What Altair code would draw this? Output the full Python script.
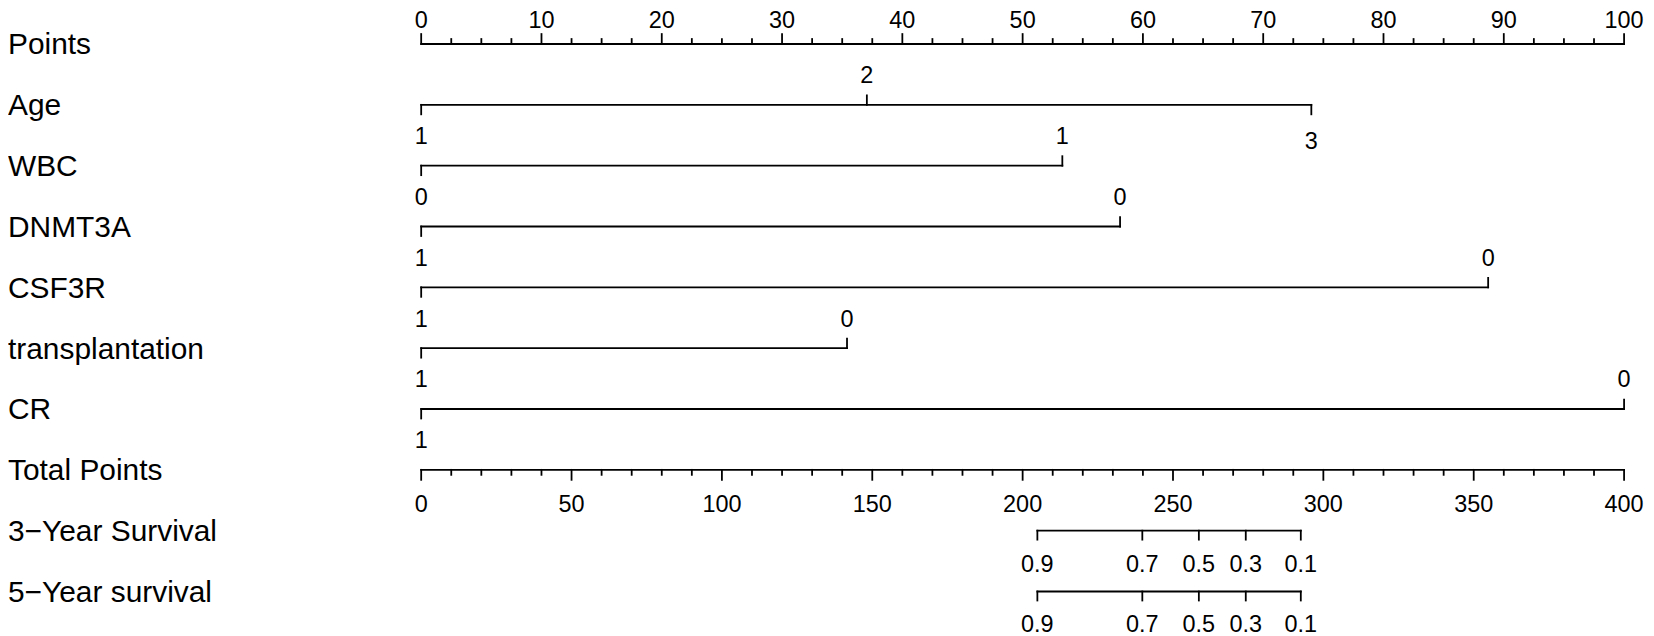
import altair as alt
import pandas as pd

# ---------------- data ----------------
row_names = ["Points", "Age", "WBC", "DNMT3A", "CSF3R", "transplantation", "CR",
             "Total Points", "3\u2212Year Survival", "5\u2212Year survival"]

points_major = [0, 10, 20, 30, 40, 50, 60, 70, 80, 90, 100]
points_minor = [i * 2.5 for i in range(41) if i % 4]
total_major = [0, 50, 100, 150, 200, 250, 300, 350, 400]
total_minor = [v for v in range(0, 401, 10) if v % 50]

age_levels = ["1", "2", "3"]
age_points = [0, 37.05, 74.0]
wbc_levels = ["0", "1"]
wbc_points = [0, 53.3]
dnmt3a_levels = ["1", "0"]
dnmt3a_points = [0, 58.1]
csf3r_levels = ["1", "0"]
csf3r_points = [0, 88.7]
transplantation_levels = ["1", "0"]
transplantation_points = [0, 35.4]
cr_levels = ["1", "0"]
cr_points = [0, 100]

surv3_probs = ["0.9", "0.7", "0.5", "0.3", "0.1"]
surv3_total = [204.9, 239.8, 258.6, 274.2, 292.5]
surv5_probs = ["0.9", "0.7", "0.5", "0.3", "0.1"]
surv5_total = [204.9, 239.8, 258.6, 274.2, 292.5]

# label placement (style): above / below / below2 per level
age_sides = ["below", "above", "below2"]
two_sides = ["below", "above"]

# ---------------- tables ----------------
rows_df = pd.DataFrame({"row": list(range(len(row_names))), "name": row_names})

pts_major_df = pd.DataFrame({"row": 0, "pts": points_major, "label": [str(v) for v in points_major]})
pts_minor_df = pd.DataFrame({"row": 0, "pts": points_minor})

variables = [
    (1, age_levels, age_points, age_sides),
    (2, wbc_levels, wbc_points, two_sides),
    (3, dnmt3a_levels, dnmt3a_points, two_sides),
    (4, csf3r_levels, csf3r_points, two_sides),
    (5, transplantation_levels, transplantation_points, two_sides),
    (6, cr_levels, cr_points, two_sides),
]
lvl_records, line_records = [], []
for r, labs, pts, sides in variables:
    line_records.append({"row": r, "start": min(pts), "end": max(pts)})
    for lab, p, s in zip(labs, pts, sides):
        lvl_records.append({"row": r, "pts": p, "label": lab, "side": s})
lvl_df = pd.DataFrame(lvl_records)
var_lines_df = pd.DataFrame(line_records)

tot_major_df = pd.DataFrame({"row": 7, "tp": total_major, "label": [str(v) for v in total_major]})
tot_minor_df = pd.DataFrame({"row": 7, "tp": total_minor})
surv_df = pd.DataFrame({
    "row": [8] * len(surv3_total) + [9] * len(surv5_total),
    "tp": surv3_total + surv5_total,
    "label": surv3_probs + surv5_probs,
})
surv_lines_df = pd.DataFrame({
    "row": [8, 9],
    "start": [min(surv3_total), min(surv5_total)],
    "end": [max(surv3_total), max(surv5_total)],
})
axis_lines_df = pd.DataFrame({"row": [0], "start": [0], "end": [100]})
tot_line_df = pd.DataFrame({"row": [7], "start": [0], "end": [400]})

# ---------------- encodings ----------------
FONT = "Liberation Sans"
X0, X1 = 414.7, 1622.0
pts_scale = alt.Scale(domain=[0, 100], range=[X0, X1], nice=False, zero=False)
tot_scale = alt.Scale(domain=[0, 400], range=[X0, X1], nice=False, zero=False)
y_enc = alt.Y("row:Q", scale=alt.Scale(domain=[0, 9], range=[35, 584.5], nice=False, zero=False), axis=None)
SW = 1.8
rule_kw = dict(color="black", strokeWidth=SW, strokeCap="square")
num_kw = dict(font=FONT, fontSize=23.5, color="black", align="center", baseline="alphabetic")


def hline(df, scale):
    return alt.Chart(df).mark_rule(**rule_kw).encode(
        x=alt.X("start:Q", scale=scale, axis=None), x2="end:Q", y=y_enc)


def vticks(df, field, scale, off, flt=None):
    c = alt.Chart(df)
    if flt is not None:
        c = c.transform_filter(flt)
    return c.mark_rule(y2Offset=off, **rule_kw).encode(
        x=alt.X(f"{field}:Q", scale=scale, axis=None), y=y_enc, y2=alt.Y2("row"))


def labels(df, field, scale, dy, flt=None):
    c = alt.Chart(df)
    if flt is not None:
        c = c.transform_filter(flt)
    return c.mark_text(dy=dy, **num_kw).encode(
        x=alt.X(f"{field}:Q", scale=scale, axis=None), y=y_enc, text="label:N")


row_labels = alt.Chart(rows_df).mark_text(
    font=FONT, fontSize=30, color="black", align="left", baseline="alphabetic", dy=10.5
).encode(x=alt.value(0), y=y_enc, text="name:N")

pts_layer = alt.layer(
    row_labels,
    hline(axis_lines_df, pts_scale),
    vticks(pts_major_df, "pts", pts_scale, -10),
    vticks(pts_minor_df, "pts", pts_scale, -5),
    labels(pts_major_df, "pts", pts_scale, -16.5),
    hline(var_lines_df, pts_scale),
    vticks(lvl_df, "pts", pts_scale, -9.5, alt.datum.side == "above"),
    vticks(lvl_df, "pts", pts_scale, 9.5, alt.datum.side != "above"),
    labels(lvl_df, "pts", pts_scale, -21.6, alt.datum.side == "above"),
    labels(lvl_df, "pts", pts_scale, 39.4, alt.datum.side == "below"),
    labels(lvl_df, "pts", pts_scale, 44.5, alt.datum.side == "below2"),
)

tot_layer = alt.layer(
    hline(tot_line_df, tot_scale),
    vticks(tot_major_df, "tp", tot_scale, 10),
    vticks(tot_minor_df, "tp", tot_scale, 5),
    labels(tot_major_df, "tp", tot_scale, 42.6),
    hline(surv_lines_df, tot_scale),
    vticks(surv_df, "tp", tot_scale, 9),
    labels(surv_df, "tp", tot_scale, 41.0),
)

chart = alt.layer(pts_layer, tot_layer).resolve_scale(x="independent").properties(
    width=1644, height=628, padding=0,
    autosize=alt.AutoSizeParams(type="none"),
    background="white",
).configure_view(stroke=None)

chart.save("out.html", embed_options={"renderer": "svg", "actions": False})
